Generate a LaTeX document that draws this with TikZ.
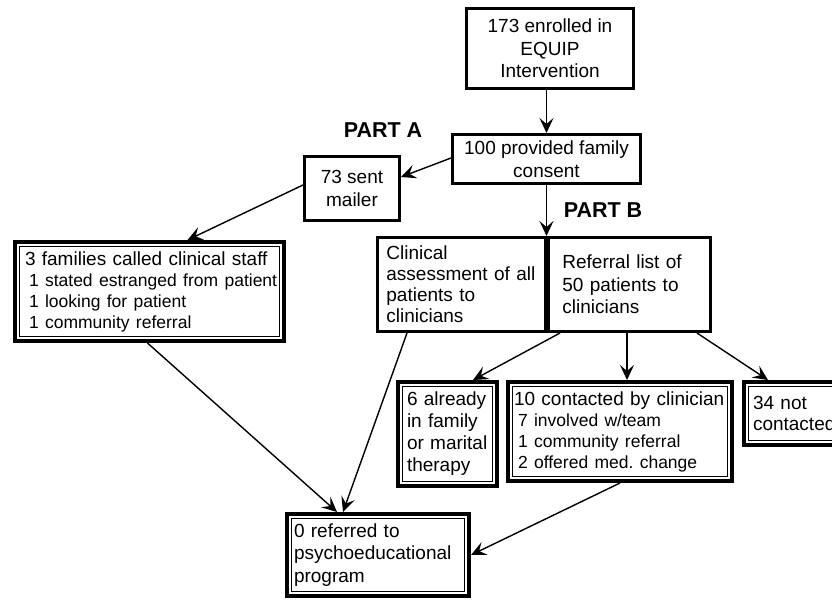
\documentclass[tikz,border=0pt]{standalone}
\usepackage{fontspec}
\setmainfont{Liberation Sans}
\usetikzlibrary{arrows.meta}
\frenchspacing
\newcommand{\boxfont}{\fontsize{19}{22.5}\selectfont}
\newcommand{\subline}[1]{\mbox{\fontsize{17.5}{21}\selectfont\hspace*{4pt}#1}}
\tikzset{
  flowbox/.style={draw, line width=2.8pt, inner ysep=1pt, font=\boxfont},
  dblbox/.style={draw, line width=4pt, inner ysep=1pt, align=left,
    font=\fontsize{19}{21}\selectfont,
    path picture={\draw[line width=0.8pt]
      ([shift={(4.5pt,4.5pt)}]path picture bounding box.south west) rectangle
      ([shift={(-4.5pt,-4.5pt)}]path picture bounding box.north east);}},
  arr/.style={-{Stealth[length=15pt,width=14pt,inset=6pt]}, line width=1.4pt},
  partlabel/.style={font=\fontsize{21.5}{24}\selectfont\bfseries}
}
\begin{document}
\begin{tikzpicture}[x=1pt,y=-1pt]
\useasboundingbox (0,0) rectangle (832,600);
\clip (0,0) rectangle (832,600);
% single frame boxes
\node[flowbox,minimum width=167.2pt,minimum height=80.2pt,align=center] (EN) at (550,48.5) {173 enrolled in\\EQUIP\\Intervention};
\node[flowbox,minimum width=188.2pt,minimum height=49.2pt,align=center] (FC) at (546.5,159) {100 provided family\\consent};
\node[flowbox,minimum width=95.2pt,minimum height=64.2pt,align=center] (MA) at (352,188.5) {73 sent\\mailer};
\node[flowbox,minimum width=168.2pt,minimum height=94.2pt,inner xsep=9pt,text width=150.2pt,align=left,font=\fontsize{19}{21}\selectfont] (CA) at (461.5,284.5) {Clinical\\assessment of all\\patients to\\clinicians};
\node[flowbox,minimum width=162.2pt,minimum height=94.2pt,inner xsep=14pt,text width=134.2pt,align=left] (RL) at (629.5,284.5) {Referral list of\\50 patients to\\clinicians};
% double frame boxes
\node[dblbox,minimum width=269pt,minimum height=99pt,inner xsep=10pt,text width=249pt] (CS) at (149.5,291.5) {3 families called clinical staff\\\subline{1 stated estranged from patient}\\\subline{1 looking for patient}\\\subline{1 community referral}};
\node[dblbox,minimum width=99pt,minimum height=104pt,inner xsep=9pt,text width=81pt,font=\fontsize{19}{22}\selectfont] (FT) at (447.5,434) {6 already\\in family\\or marital\\therapy};
\node[dblbox,minimum width=224pt,minimum height=99pt,inner xsep=6pt,text width=212pt] (CC) at (620,431.5) {10 contacted by clinician\\\subline{7 involved w/team}\\\subline{1 community referral}\\\subline{2 offered med. change}};
\node[dblbox,minimum width=104pt,minimum height=63pt,inner xsep=9pt,text width=86pt] (NC) at (796,413.5) {34 not\\contacted};
\node[dblbox,minimum width=182pt,minimum height=82pt,inner xsep=7pt,text width=168pt,font=\boxfont] (PE) at (378,555) {0 referred to\\psychoeducational\\program};
% part labels
\node[partlabel] (PA) at (383,130) {PART A};
\node[partlabel] (PB) at (603,210) {PART B};
% connectors
\draw[arr] (EN.south -| FC.north) -- (FC.north);
\draw[arr] (FC.south) -- (FC.south |- CA.north);
\draw[arr] ([yshift=1pt]FC.west) -- ([yshift=11.5pt]MA.east);
\draw[arr] ([yshift=3.5pt]MA.west) -- ([xshift=38pt]CS.north);
\draw[arr] ([xshift=-2pt]CS.south) -- ([xshift=-41pt]PE.north);
\draw[arr] ([xshift=-54.5pt]CA.south) -- ([xshift=-35pt]PE.north);
\draw[arr] ([xshift=-69.5pt]RL.south) -- ([xshift=25.5pt]FT.north);
\draw[arr] ([xshift=7pt]CC.north |- RL.south) -- ([xshift=7pt]CC.north);
\draw[arr] ([xshift=67.5pt]RL.south) -- ([xshift=-28pt]NC.north);
\draw[arr] (CC.south) -- (PE.east);
\end{tikzpicture}
\end{document}
